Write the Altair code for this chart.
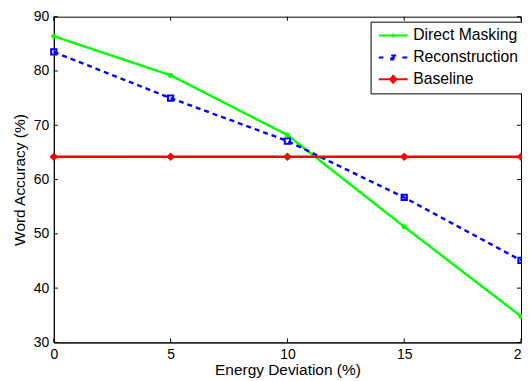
import altair as alt
import pandas as pd

x_vals = [0, 5, 10, 15, 20]
direct_masking = [86.4, 79.2, 68.2, 51.3, 34.8]
reconstruction = [83.5, 75.0, 67.1, 56.7, 45.1]
baseline = [64.2, 64.2, 64.2, 64.2, 64.2]
series_names = ["Direct Masking", "Reconstruction", "Baseline"]
series_colors = ["#00ff00", "#0000ff", "#ff0000"]
x_ticks = [0, 5, 10, 15, 20]
y_ticks = [30, 40, 50, 60, 70, 80, 90]

W, H = 469, 327
FONT = "Liberation Sans"

rows = []
for name, vals in zip(series_names, [direct_masking, reconstruction, baseline]):
    for xv, yv in zip(x_vals, vals):
        rows.append({"x": xv, "y": yv, "series": name})
df = pd.DataFrame(rows)
xt = pd.DataFrame({"x": x_ticks})
yt = pd.DataFrame({"y": y_ticks})

xs = alt.Scale(domain=[0, 20], nice=False)
ys = alt.Scale(domain=[30, 90], nice=False)
cs = alt.Scale(domain=series_names, range=series_colors)

X = alt.X("x:Q", scale=xs, axis=alt.Axis(title="Energy Deviation (%)", values=x_ticks, ticks=False,
                                          labelFlush=False, labelPadding=5, titlePadding=1, grid=False))
Y = alt.Y("y:Q", scale=ys, axis=alt.Axis(title="Word Accuracy (%)", values=y_ticks, ticks=False,
                                          labelFlush=False, labelPadding=5, titlePadding=6, grid=False))

legend_paths = [
    "M-1.14,0H4.66M1.56,0A0.2,0.2,0,1,1,1.96,0A0.2,0.2,0,1,1,1.56,0Z",
    "M-1.14,0H-0.2M3.6,0H4.66M1.36,-0.4H2.16V0.4H1.36ZM1.66,-0.1H1.86V0.1H1.66Z",
    "M-1.14,0H4.66M1.76,-0.7L2.36,0L1.76,0.7L1.16,0ZM1.76,-0.35L2.06,0L1.76,0.35L1.46,0Z",
]

def make_legend():
    return alt.Legend(
        title=None, orient="none", legendX=318, legendY=5,
        symbolSize=100, symbolStrokeWidth=2, symbolOpacity=1,
        labelFontSize=15.8, labelFont=FONT, labelColor="black",
        labelOffset=21, padding=6, rowPadding=5,
        strokeColor="black", fillColor="white")

lines = alt.Chart(df).mark_line(strokeWidth=2.4, clip=True).encode(
    x=X, y=Y,
    color=alt.Color("series:N", scale=cs, legend=make_legend()),
    strokeDash=alt.StrokeDash("series:N", scale=alt.Scale(domain=series_names, range=[[1, 0], [5, 4], [1, 0]]), legend=None),
    detail="series:N",
)

dm_pts = alt.Chart(df).transform_filter(alt.datum.series == "Direct Masking").mark_point(
    shape="circle", filled=True, size=26, color="#00ff00", opacity=1).encode(x="x:Q", y="y:Q")
rec_pts = alt.Chart(df).transform_filter(alt.datum.series == "Reconstruction").mark_point(
    shape="square", filled=False, size=28, strokeWidth=2, color="#0000ff", opacity=1).encode(x="x:Q", y="y:Q")
base_pts = alt.Chart(df).transform_filter(alt.datum.series == "Baseline").mark_point(
    shape="diamond", filled=True, size=75, color="#ff0000", opacity=1).encode(x="x:Q", y="y:Q")

legend_layer = alt.Chart(df).mark_point(filled=False, opacity=0, strokeWidth=2).encode(
    x="x:Q", y="y:Q",
    color=alt.Color("series:N", scale=cs, legend=make_legend()),
    shape=alt.Shape("series:N", scale=alt.Scale(domain=series_names, range=legend_paths),
                    legend=make_legend()),
)

tick_len = 4
xt_bottom = alt.Chart(xt).mark_rule(color="black", strokeWidth=1).encode(
    x=alt.X("x:Q", scale=xs), y=alt.value(H), y2=alt.value(H - tick_len))
xt_top = alt.Chart(xt).mark_rule(color="black", strokeWidth=1).encode(
    x=alt.X("x:Q", scale=xs), y=alt.value(0), y2=alt.value(tick_len))
yt_left = alt.Chart(yt).mark_rule(color="black", strokeWidth=1).encode(
    y=alt.Y("y:Q", scale=ys), x=alt.value(0), x2=alt.value(tick_len))
yt_right = alt.Chart(yt).mark_rule(color="black", strokeWidth=1).encode(
    y=alt.Y("y:Q", scale=ys), x=alt.value(W), x2=alt.value(W - tick_len))

chart = alt.layer(
    lines, dm_pts, rec_pts, base_pts, legend_layer, xt_bottom, xt_top, yt_left, yt_right
).properties(
    width=W, height=H,
    autosize=alt.AutoSizeParams(type="none"),
    padding={"left": 46, "top": 8, "right": 1, "bottom": 36},
).configure_view(
    stroke="black", strokeWidth=1
).configure_axis(
    labelFont=FONT, labelFontSize=14, labelColor="black",
    titleFont=FONT, titleFontSize=15.5, titleColor="black", titleFontWeight="normal",
    domainColor="black", domainWidth=1,
)

chart.save("out.html", embed_options={"renderer": "svg", "actions": False})
